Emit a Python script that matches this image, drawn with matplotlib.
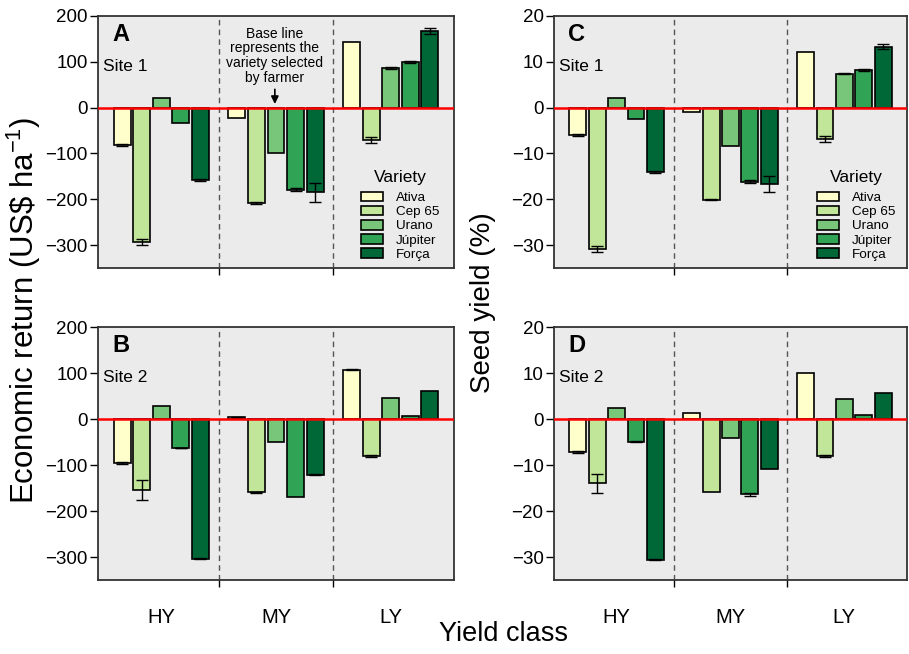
import numpy as np
import matplotlib
matplotlib.use("Agg")
import matplotlib.pyplot as plt
from matplotlib.patches import Patch

plt.rcParams['font.family'] = ['Liberation Sans', 'DejaVu Sans']
plt.rcParams['mathtext.fontset'] = 'custom'
plt.rcParams['mathtext.rm'] = 'Liberation Sans'
plt.rcParams['mathtext.default'] = 'regular'

varieties = ["Ativa", "Cep 65", "Urano", "Júpiter", "Força"]
yield_classes = ["HY", "MY", "LY"]
colors = ["#ffffcc", "#c2e699", "#78c679", "#31a354", "#006837"]

# rows: varieties; columns: HY, MY, LY
econ_site1 = [[-81, -23, 143],
              [-293, -209, -70],
              [22, -99, 87],
              [-33, -179, 99],
              [-158, -185, 167]]
econ_site1_err = [[2, 0, 0],
                  [6, 2, 7],
                  [0, 0, 2],
                  [0, 4, 2],
                  [2, 20, 7]]
econ_site2 = [[-96, 4, 107],
              [-155, -159, -80],
              [28, -51, 46],
              [-63, -170, 7],
              [-304, -121, 61]]
econ_site2_err = [[2, 1, 1],
                  [22, 1, 2],
                  [0, 0, 0],
                  [1, 0, 0],
                  [1, 1, 0]]
yield_site1 = [[-5.9, -0.9, 12.2],
               [-30.8, -20.1, -6.8],
               [2.0, -8.3, 7.4],
               [-2.4, -16.2, 8.3],
               [-14.0, -16.7, 13.3]]
yield_site1_err = [[0.2, 0, 0],
                   [0.7, 0.1, 0.7],
                   [0, 0, 0.1],
                   [0, 0.3, 0.2],
                   [0.2, 1.8, 0.5]]
yield_site2 = [[-7.1, 1.4, 9.9],
               [-14.0, -15.8, -8.1],
               [2.4, -4.2, 4.3],
               [-4.9, -16.4, 0.9],
               [-30.6, -10.9, 5.7]]
yield_site2_err = [[0.2, 0, 0],
                   [2.0, 0, 0.2],
                   [0, 0, 0],
                   [0.1, 0.3, 0],
                   [0.1, 0, 0]]

fig = plt.figure(figsize=(9.09, 6.54), dpi=100)
W, H = 909, 654
def pos(x0, x1, y0, y1):
    return [x0 / W, 1 - y1 / H, (x1 - x0) / W, (y1 - y0) / H]

axA = fig.add_axes(pos(98, 454, 16, 268))
axB = fig.add_axes(pos(98, 454, 327, 580))
axC = fig.add_axes(pos(554, 907, 16, 268))
axD = fig.add_axes(pos(554, 907, 327, 580))

pitch = 0.17
width = 0.148
offsets = (np.arange(5) - 2) * pitch
xg = np.arange(3)

def draw(ax, vals, errs, ylim, yticks, letter, site, bottom):
    ax.set_facecolor("#ebebeb")
    for i in range(5):
        v = np.array(vals[i], float)
        e = np.array(errs[i], float)
        x = xg + offsets[i]
        ax.bar(x, v, width=width, color=colors[i], edgecolor="black",
               linewidth=1.2, zorder=3)
        m = e > 0
        if m.any():
            ax.errorbar(x[m], v[m], yerr=e[m], fmt="none", ecolor="black",
                        elinewidth=1.0, capsize=4, capthick=1.0, zorder=4)
    ax.axhline(0, color="red", lw=1.8, zorder=5)
    for xb in [0.5, 1.5]:
        ax.axvline(xb, color="#555555", lw=1.0, ls=(0, (4, 3)), zorder=2)
    ax.set_xlim(-0.55, 2.55)
    ax.set_ylim(*ylim)
    ax.set_yticks(yticks)
    ax.tick_params(axis="y", direction="out", length=6, width=1, pad=1.5,
                   labelsize=13.5, colors="black")
    ax.set_xticks(xg)
    ax.set_xticks([0.5, 1.5], minor=True)
    ax.tick_params(axis="x", which="major", length=0, pad=20, labelsize=14.5)
    ax.tick_params(axis="x", which="minor", length=5, width=1, direction="out")
    if bottom:
        ax.set_xticklabels(yield_classes)
    else:
        ax.set_xticklabels([])
    for s in ax.spines.values():
        s.set_color("#333333")
        s.set_linewidth(1.3)
    ax.text(0.04, 0.925, letter, transform=ax.transAxes, fontsize=17,
            fontweight="bold", ha="left", va="center")
    ax.text(0.015, 0.80, site, transform=ax.transAxes, fontsize=12.5,
            ha="left", va="center")

draw(axA, econ_site1, econ_site1_err, (-350, 200), range(-300, 201, 100), "A", "Site 1", False)
draw(axB, econ_site2, econ_site2_err, (-350, 200), range(-300, 201, 100), "B", "Site 2", True)
draw(axC, yield_site1, yield_site1_err, (-35, 20), range(-30, 21, 10), "C", "Site 1", False)
draw(axD, yield_site2, yield_site2_err, (-35, 20), range(-30, 21, 10), "D", "Site 2", True)

handles = [Patch(facecolor=c, edgecolor="black", linewidth=1.2) for c in colors]
for ax, bx in [(axA, 0.739), (axC, 0.745)]:
    leg = ax.legend(handles, varieties, title="Variety", loc="upper left",
                    bbox_to_anchor=(bx, 0.39), frameon=False, fontsize=9.7,
                    title_fontsize=12.5, handlelength=1.6, handleheight=0.72,
                    handletextpad=1.0, labelspacing=0.12, borderpad=0,
                    borderaxespad=0)
    leg._legend_box.sep = 5
    leg.set_zorder(6)

axA.annotate("Base line\nrepresents the\nvariety selected\nby farmer",
             xy=(0.99, 8), xytext=(0.99, 49), ha="center", va="bottom",
             fontsize=10, linespacing=1.08,
             arrowprops=dict(arrowstyle="-|>", color="black", lw=1.2,
                             mutation_scale=11, shrinkA=1, shrinkB=0),
             zorder=6)

fig.text(0.026, 0.526, r"Economic return (US\$ ha$^{-1}$)", rotation=90,
         ha="center", va="center", fontsize=22.5)
fig.text(0.531, 0.537, "Seed yield (%)", rotation=90, ha="center",
         va="center", fontsize=20)
fig.text(0.554, 0.031, "Yield class", ha="center", va="center", fontsize=19.5)

fig.savefig("out.png", dpi=100)
